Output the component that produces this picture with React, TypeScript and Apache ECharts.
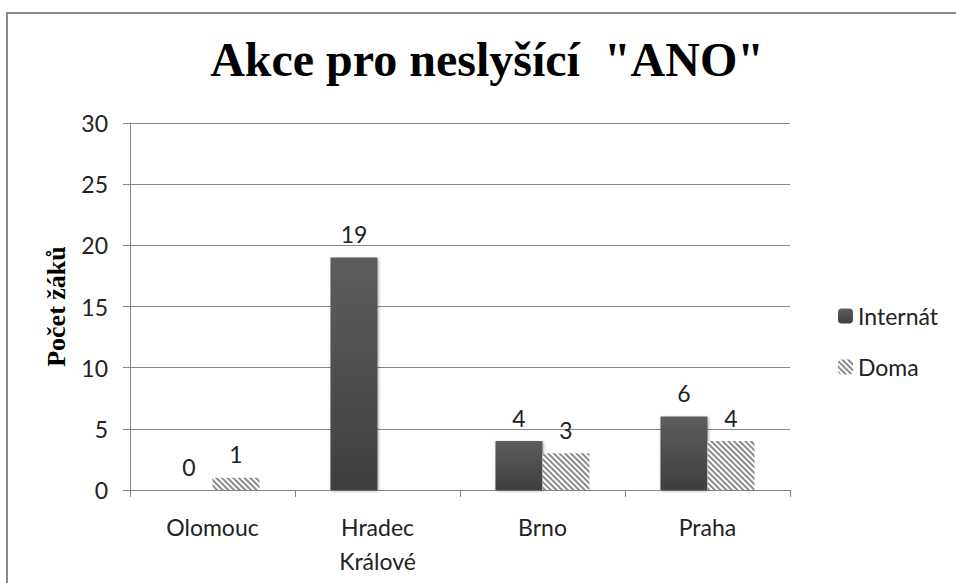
import React, { useEffect, useRef } from "react";
import * as echarts from "echarts";

const categories = ["Olomouc", "Hradec\nKrálové", "Brno", "Praha"];
const internatValues: (number | null)[] = [0, 19, 4, 6];
const domaValues: (number | null)[] = [1, null, 3, 4];
const yTicks = { min: 0, max: 30, interval: 5 };
const titleText = 'Akce pro neslyšící  "ANO"';
const yAxisName = "Počet žáků";
const seriesNames = ["Internát", "Doma"];

const sans = "Lato, 'Open Sans', sans-serif";
const serif = "'Liberation Serif', 'Times New Roman', serif";
const axisGray = "#868686";

export default function App() {
  const ref = useRef<HTMLDivElement>(null);
  useEffect(() => {
    if (!ref.current) return;
    const chart = echarts.init(ref.current, undefined, { renderer: "svg" });
    chart.setOption({
      animation: false,
      backgroundColor: "#ffffff",
      title: {
        text: titleText,
        left: 487,
        textAlign: "center",
        top: 35,
        padding: 0,
        textStyle: {
          fontFamily: serif,
          fontWeight: "bold",
          fontSize: 48,
          color: "#000000",
        },
      },
      graphic: [
        {
          type: "rect",
          shape: { x: 7, y: 13, width: 980, height: 620 },
          style: { fill: "none", stroke: "#8a8a8a", lineWidth: 2 },
          silent: true,
        },
      ],
      legend: {
        orient: "vertical",
        left: 833,
        top: 299,
        itemWidth: 15,
        itemHeight: 15,
        itemGap: 27,
        textStyle: {
          fontFamily: sans,
          fontSize: 23,
          lineHeight: 24,
          color: "#222222",
        },
        data: seriesNames,
      },
      grid: { left: 130, right: 166, top: 123, bottom: 93, containLabel: false },
      xAxis: {
        type: "category",
        data: categories,
        axisLine: { show: true, lineStyle: { color: axisGray, width: 1 } },
        axisTick: { show: true, length: 7, lineStyle: { color: axisGray } },
        axisLabel: {
          fontFamily: sans,
          fontSize: 23,
          lineHeight: 34,
          color: "#222222",
          margin: 20,
          interval: 0,
        },
      },
      yAxis: {
        type: "value",
        min: yTicks.min,
        max: yTicks.max,
        interval: yTicks.interval,
        name: yAxisName,
        nameLocation: "middle",
        nameRotate: 90,
        nameGap: 61,
        nameTextStyle: {
          fontFamily: serif,
          fontWeight: "bold",
          fontSize: 26,
          color: "#000000",
        },
        axisLine: { show: true, lineStyle: { color: axisGray, width: 1 } },
        axisTick: { show: true, length: 7, lineStyle: { color: axisGray } },
        splitLine: { show: true, lineStyle: { color: axisGray, width: 1 } },
        axisLabel: {
          fontFamily: sans,
          fontSize: 23,
          color: "#222222",
          margin: 22,
        },
      },
      series: [
        {
          name: seriesNames[0],
          type: "bar",
          data: internatValues,
          barWidth: "28.5%",
          barGap: "0%",
          itemStyle: {
            color: new echarts.graphic.LinearGradient(0, 0, 0, 1, [
              { offset: 0, color: "#5d5d5d" },
              { offset: 1, color: "#3f3f3f" },
            ]),
            shadowBlur: 3,
            shadowColor: "rgba(0,0,0,0.35)",
            shadowOffsetX: 1,
            shadowOffsetY: 1,
          },
          label: {
            show: true,
            position: "top",
            distance: 12,
            fontFamily: sans,
            fontSize: 23,
            color: "#222222",
          },
        },
        {
          name: seriesNames[1],
          type: "bar",
          data: domaValues,
          barWidth: "28.5%",
          itemStyle: {
            color: "#ffffff",
            decal: {
              symbol: "rect",
              symbolSize: 1,
              color: "#8a8a8a",
              backgroundColor: "#ffffff",
              dashArrayX: [1, 0],
              dashArrayY: [2, 2],
              rotation: Math.PI / 4,
            },
          },
          label: {
            show: true,
            position: "top",
            distance: 12,
            fontFamily: sans,
            fontSize: 23,
            color: "#222222",
          },
        },
      ],
    });
    return () => chart.dispose();
  }, []);
  return (
    <div
      ref={ref}
      style={{ position: "absolute", left: 0, top: 0, width: 956, height: 583 }}
    />
  );
}
